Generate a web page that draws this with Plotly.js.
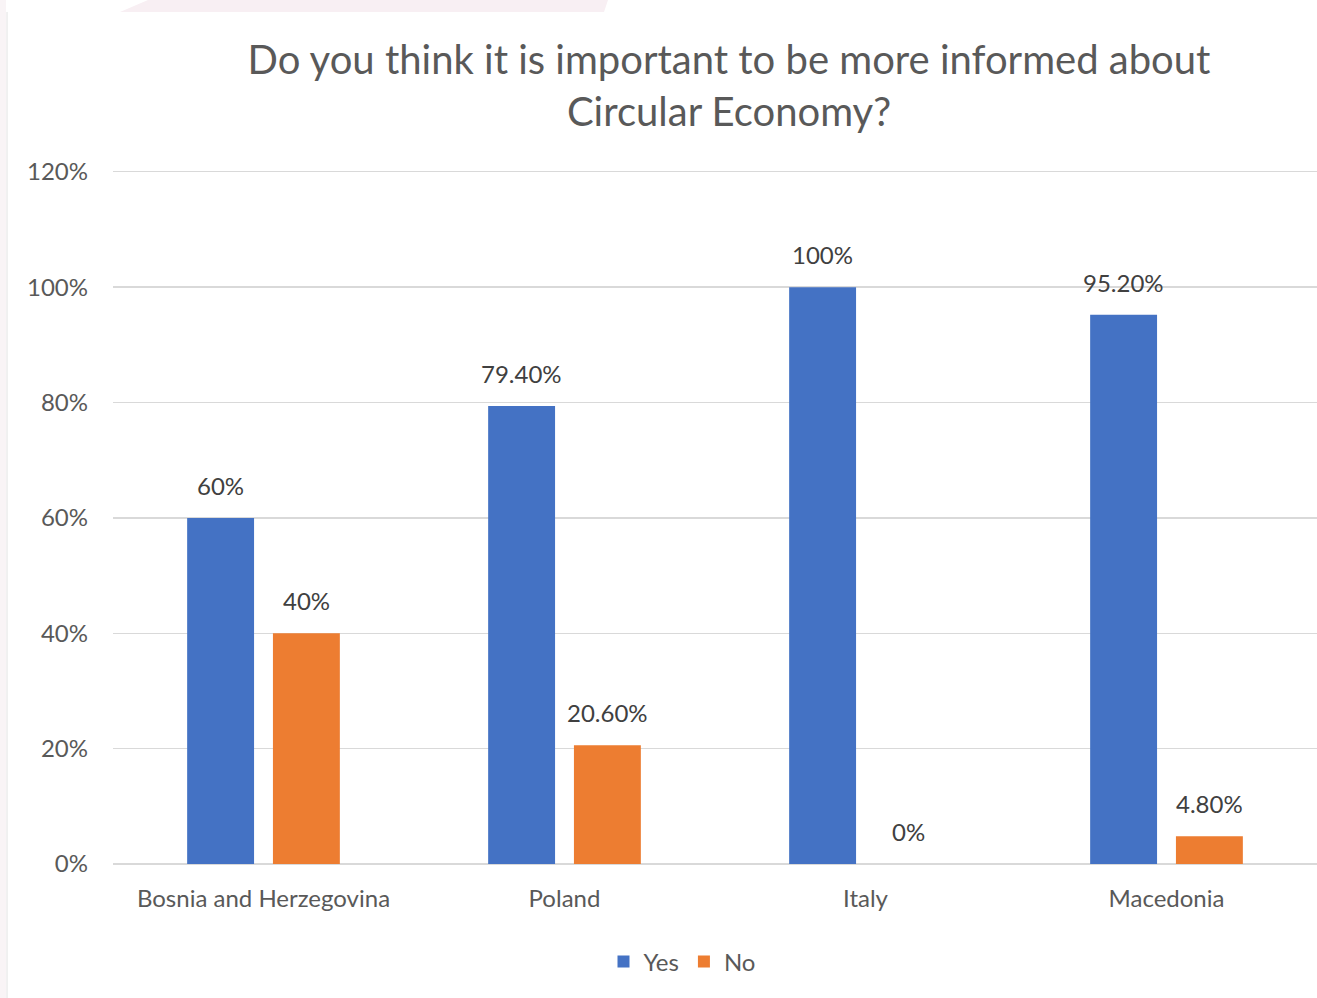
<!DOCTYPE html>
<html>
<head>
<meta charset="utf-8">
<script src="https://cdn.plot.ly/plotly-3.0.1.min.js"></script>
<style>html,body{margin:0;padding:0;background:#fff;}#chart{width:1317px;height:998px;}</style>
</head>
<body>
<div id="chart"></div>
<script>
const categories = ["Bosnia and Herzegovina", "Poland", "Italy", "Macedonia"];
const yesValues = [0.60, 0.794, 1.00, 0.952];
const noValues = [0.40, 0.206, 0.00, 0.048];
const seriesNames = ["Yes", "No"];
const tickValues = [0, 0.2, 0.4, 0.6, 0.8, 1.0, 1.2];
const tickLabels = ["0%", "20%", "40%", "60%", "80%", "100%", "120%"];

function fmt(v) {
  const p = Math.round(v * 10000) / 100;
  return Number.isInteger(p) ? p + "%" : p.toFixed(2) + "%";
}

const W = 1317, H = 998, L = 113, R = 0, T = 166, B = 134;
const pw = W - L - R, ph = H - T - B;
const px = x => (x - L) / pw;
const py = y => (H - B - y) / ph;

const font = "Lato, 'Open Sans', sans-serif";
const labelFont = {family: font, size: 24, color: "#404040"};
const colors = ["#4472C4", "#ED7D31"];

const traces = [
  {type: "bar", name: seriesNames[0], x: categories, y: yesValues, marker: {color: colors[0]}},
  {type: "bar", name: seriesNames[1], x: categories, y: noValues, marker: {color: colors[1]}}
];

const annotations = [];
[yesValues, noValues].forEach((vals, s) => {
  vals.forEach((v, i) => {
    annotations.push({x: categories[i], y: v, xref: "x", yref: "y", text: fmt(v),
      showarrow: false, yanchor: "bottom", xanchor: "center",
      xshift: s === 0 ? -43 : 43, yshift: 16, font: labelFont});
  });
});

const layout = {
  width: W, height: H,
  margin: {l: L, r: R, t: T, b: B, pad: 0},
  paper_bgcolor: "#ffffff", plot_bgcolor: "#ffffff",
  font: {family: font, color: "#595959"},
  title: {text: "Do you think it is important to be more informed about<br>Circular Economy?",
          x: 729 / W, xanchor: "center", xref: "container",
          y: 1 - 74 / H, yanchor: "top", yref: "container",
          font: {family: font, size: 40, color: "#595959"}},
  barmode: "group", bargap: 0.43, bargroupgap: 0.22,
  xaxis: {type: "category", showgrid: false, showline: false, zeroline: false,
          ticks: "", tickfont: {family: font, size: 24, color: "#595959"},
          ticklabelstandoff: 18, fixedrange: true},
  yaxis: {range: [0, 1.21], tickvals: tickValues, ticktext: tickLabels,
          showgrid: true, gridcolor: "#d9d9d9", gridwidth: 1.3,
          zeroline: true, zerolinecolor: "#d9d9d9", zerolinewidth: 1.3,
          showline: false, ticks: "", ticklabelstandoff: 24,
          tickfont: {family: font, size: 24, color: "#595959"}, fixedrange: true},
  showlegend: true,
  legend: {orientation: "h", x: px(682), xanchor: "center", y: py(962), yanchor: "middle",
           font: {family: font, size: 24, color: "#595959"},
           itemwidth: 30, tracegroupgap: 0, traceorder: "normal"},
  annotations: annotations,
  shapes: [
    {type: "path", xref: "paper", yref: "paper",
     path: `M ${px(148)} ${py(0)} L ${px(608)} ${py(0)} L ${px(604)} ${py(12)} L ${px(120)} ${py(12)} Z`,
     fillcolor: "#f8eff3", line: {width: 0}, layer: "below"},
    {type: "rect", xref: "paper", yref: "paper",
     x0: px(0), x1: px(6), y0: py(998), y1: py(0),
     fillcolor: "#f9f4f6", line: {width: 0}, layer: "below"},
    {type: "line", xref: "paper", yref: "paper",
     x0: px(7), x1: px(7), y0: py(12), y1: py(998),
     line: {color: "#e2e2e2", width: 1}}
  ]
};

Plotly.newPlot("chart", traces, layout, {displayModeBar: false, staticPlot: true});
</script>
</body>
</html>
